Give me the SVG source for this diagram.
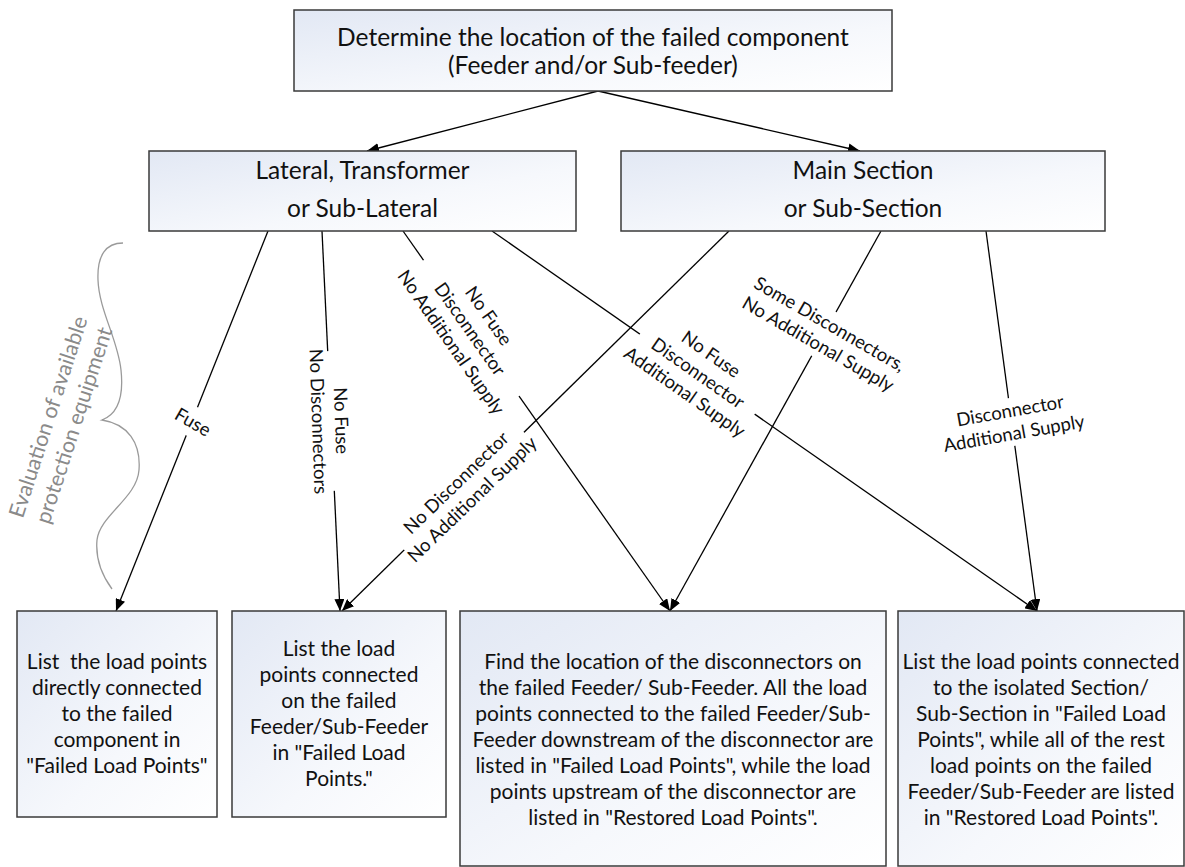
<svg xmlns="http://www.w3.org/2000/svg" width="1185" height="867" viewBox="0 0 1185 867">
  <defs>
    <linearGradient id="boxfill" x1="0" y1="0" x2="1" y2="1">
      <stop offset="0" stop-color="#e2e8f4"/>
      <stop offset="0.6" stop-color="#f6f8fc"/>
      <stop offset="1" stop-color="#ffffff"/>
    </linearGradient>
    <marker id="ah" viewBox="0 0 12 10" refX="12" refY="5" markerWidth="12" markerHeight="10" orient="auto" markerUnits="userSpaceOnUse">
      <path d="M0,0 L12,5 L0,10 z" fill="#000"/>
    </marker>
    <style>
      .box { fill: url(#boxfill); stroke: #3a3a3a; stroke-width: 1.5; }
      .t { font-family: Lato, "Open Sans", sans-serif; fill: #111; text-anchor: middle; }
      .big { font-size: 24.5px; }
      .mid { font-size: 21px; }
      .lbl { font-family: Lato, "Open Sans", sans-serif; font-size: 18.5px; fill: #111; text-anchor: middle; }
      .lblbg { fill: #ffffff; }
      .conn { stroke: #000; stroke-width: 1.3; fill: none; marker-end: url(#ah); }
      .note { font-family: Lato, "Open Sans", sans-serif; font-size: 21.5px; fill: #8a8a8a; text-anchor: middle; }
      .brace { stroke: #9a9a9a; stroke-width: 1.3; fill: none; }
    </style>
  </defs>

  <rect width="1185" height="867" fill="#ffffff"/>

  <!-- connectors -->
  <g id="connectors">
    <path class="conn" d="M598,91 L367,151"/>
    <path class="conn" d="M598,91 L860,151"/>
    <path class="conn" d="M268,231 L116,611"/>
    <path class="conn" d="M322,231 L340,611"/>
    <path class="conn" d="M403,231 L670,611"/>
    <path class="conn" d="M492,231 L1037,611"/>
    <path class="conn" d="M729,231 L342,611"/>
    <path class="conn" d="M881,231 L670,611"/>
    <path class="conn" d="M986,231 L1037,611"/>

    <!-- connector labels -->
    <g transform="translate(193,422) rotate(30)">
      <rect class="lblbg" x="-24" y="-15" width="48" height="30"/>
      <text class="lbl" x="0" y="6.5">Fuse</text>
    </g>
    <g transform="translate(330,421) rotate(88)">
      <rect class="lblbg" x="-70" y="-25" width="140" height="50"/>
      <text class="lbl" x="0" y="-5">No Fuse</text>
      <text class="lbl" x="0" y="18">No Disconnectors</text>
    </g>
    <g transform="translate(470,329) rotate(55)">
      <rect class="lblbg" x="-83" y="-37" width="166" height="74"/>
      <text class="lbl" x="0" y="-16.5">No Fuse</text>
      <text class="lbl" x="0" y="6.5">Disconnector</text>
      <text class="lbl" x="0" y="29.5">No Additional Supply</text>
    </g>
    <g transform="translate(698,373) rotate(35)">
      <rect class="lblbg" x="-70" y="-37" width="140" height="74"/>
      <text class="lbl" x="0" y="-16.5">No Fuse</text>
      <text class="lbl" x="0" y="6.5">Disconnector</text>
      <text class="lbl" x="0" y="29.5">Additional Supply</text>
    </g>
    <g transform="translate(464,491) rotate(-44)">
      <rect class="lblbg" x="-84" y="-25" width="168" height="50"/>
      <text class="lbl" x="0" y="-5">No Disconnector</text>
      <text class="lbl" x="0" y="18">No Additional Supply</text>
    </g>
    <g transform="translate(824,334) rotate(30)">
      <rect class="lblbg" x="-86" y="-25" width="172" height="50"/>
      <text class="lbl" x="0" y="-5">Some Disconnectors,</text>
      <text class="lbl" x="0" y="18">No Additional Supply</text>
    </g>
    <g transform="translate(1012,422) rotate(-10)">
      <rect class="lblbg" x="-72" y="-24" width="144" height="48"/>
      <text class="lbl" x="0" y="-5">Disconnector</text>
      <text class="lbl" x="0" y="18">Additional Supply</text>
    </g>
  </g>

  <!-- grouping brace with its note -->
  <g id="annotation">
    <path class="brace" d="M123,243 C106,243 97,255 98,280 C99,310 118,340 121,370 C124,398 118,414 102,420 C128,424 141,443 139,470 C137,498 100,515 97,540 C95,562 104,578 112,589"/>
    <g transform="translate(61,421) rotate(-72)">
      <text class="note" x="0" y="-6">Evaluation of available</text>
      <text class="note" x="0" y="21">protection equipment</text>
    </g>
  </g>

  <!-- nodes -->
  <g id="node-start">
    <rect class="box" x="294" y="10" width="598" height="81"/>
    <text class="t big" x="593" y="46">Determine the location of the failed component</text>
    <text class="t big" x="593" y="74">(Feeder and/or Sub-feeder)</text>
  </g>

  <g id="node-lateral">
    <rect class="box" x="149" y="151" width="427" height="80"/>
    <text class="t big" x="362.5" y="179">Lateral, Transformer</text>
    <text class="t big" x="362.5" y="217">or Sub-Lateral</text>
  </g>

  <g id="node-main">
    <rect class="box" x="621" y="151" width="484" height="80"/>
    <text class="t big" x="863" y="179">Main Section</text>
    <text class="t big" x="863" y="217">or Sub-Section</text>
  </g>

  <g id="node-fuse">
    <rect class="box" x="17" y="611" width="200" height="206"/>
    <text class="t mid" x="117" y="669" xml:space="preserve">List  the load points</text>
    <text class="t mid" x="117" y="695">directly connected</text>
    <text class="t mid" x="117" y="721">to the failed</text>
    <text class="t mid" x="117" y="747">component in</text>
    <text class="t mid" x="117" y="773">"Failed Load Points"</text>
  </g>

  <g id="node-nofuse">
    <rect class="box" x="232" y="611" width="214" height="206"/>
    <text class="t mid" x="339" y="656">List the load</text>
    <text class="t mid" x="339" y="682">points connected</text>
    <text class="t mid" x="339" y="708">on the failed</text>
    <text class="t mid" x="339" y="734">Feeder/Sub-Feeder</text>
    <text class="t mid" x="339" y="760">in "Failed Load</text>
    <text class="t mid" x="339" y="786">Points."</text>
  </g>

  <g id="node-disconnector">
    <rect class="box" x="460" y="611" width="426" height="255"/>
    <text class="t mid" x="673" y="669">Find the location of the disconnectors on</text>
    <text class="t mid" x="673" y="695">the failed Feeder/ Sub-Feeder. All the load</text>
    <text class="t mid" x="673" y="721">points connected to the failed Feeder/Sub-</text>
    <text class="t mid" x="673" y="747">Feeder downstream of the disconnector are</text>
    <text class="t mid" x="673" y="773">listed in "Failed Load Points", while the load</text>
    <text class="t mid" x="673" y="799">points upstream of the disconnector are</text>
    <text class="t mid" x="673" y="825">listed in "Restored Load Points".</text>
  </g>

  <g id="node-isolated">
    <rect class="box" x="898" y="611" width="286" height="255"/>
    <text class="t mid" x="1041" y="669">List the load points connected</text>
    <text class="t mid" x="1041" y="695">to the isolated Section/</text>
    <text class="t mid" x="1041" y="721">Sub-Section in "Failed Load</text>
    <text class="t mid" x="1041" y="747">Points", while all of the rest</text>
    <text class="t mid" x="1041" y="773">load points on the failed</text>
    <text class="t mid" x="1041" y="799">Feeder/Sub-Feeder are listed</text>
    <text class="t mid" x="1041" y="825">in "Restored Load Points".</text>
  </g>
</svg>
